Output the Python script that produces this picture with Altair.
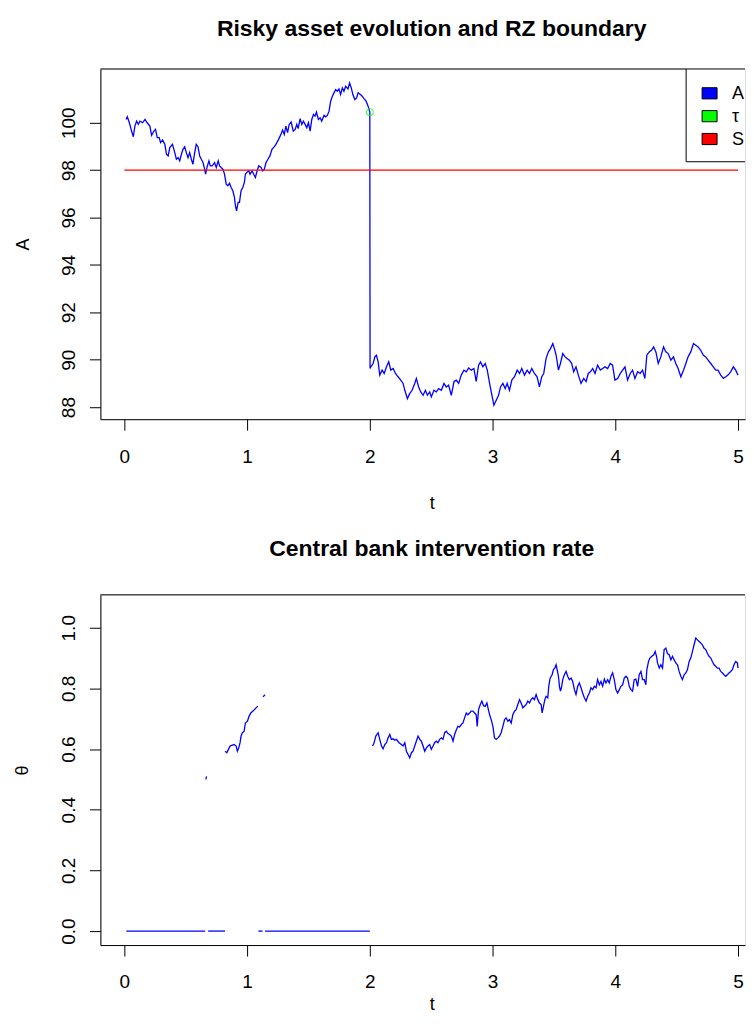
import altair as alt
import pandas as pd

FONT = "Liberation Sans"

# ---------------- data ----------------
a_t_pre = [0.014, 0.024, 0.041, 0.059, 0.073, 0.086, 0.100, 0.114, 0.127, 0.149,
           0.168, 0.186, 0.208, 0.222, 0.241, 0.254, 0.268, 0.284, 0.295, 0.311,
           0.330, 0.343, 0.357, 0.370, 0.392, 0.411, 0.424, 0.438, 0.451, 0.465,
           0.478, 0.492, 0.505, 0.519, 0.532, 0.546, 0.559, 0.573, 0.586, 0.600,
           0.614, 0.627, 0.641, 0.654, 0.662, 0.673, 0.689, 0.700, 0.716, 0.735,
           0.749, 0.765, 0.776, 0.789, 0.803, 0.816, 0.830, 0.843, 0.857, 0.870,
           0.884, 0.897, 0.905, 0.914, 0.927, 0.938, 0.951, 0.965, 0.978, 0.986,
           0.997, 1.014, 1.024, 1.041, 1.054, 1.068, 1.078, 1.095, 1.114, 1.127,
           1.141, 1.154, 1.170, 1.186, 1.203, 1.222, 1.235, 1.257, 1.276, 1.289,
           1.303, 1.316, 1.330, 1.343, 1.359, 1.376, 1.392, 1.405, 1.416, 1.432,
           1.446, 1.459, 1.473, 1.486, 1.500, 1.514, 1.527, 1.541, 1.554, 1.565,
           1.581, 1.595, 1.608, 1.627, 1.641, 1.654, 1.668, 1.681, 1.695, 1.708,
           1.722, 1.735, 1.749, 1.762, 1.776, 1.789, 1.803, 1.822, 1.835, 1.849,
           1.862, 1.878, 1.892, 1.905, 1.924, 1.938, 1.954, 1.970, 1.986, 2.000]
a_val_pre = [100.14, 100.25, 100.00, 99.65, 99.41, 99.86, 100.07, 99.93, 100.07, 100.00,
             100.14, 100.00, 99.86, 99.47, 99.65, 99.72, 99.37, 99.37, 99.16, 99.27,
             99.09, 98.67, 98.60, 98.95, 99.09, 98.74, 98.46, 98.53, 98.39, 98.67,
             98.88, 98.99, 98.74, 98.53, 98.74, 98.46, 98.25, 98.74, 99.09, 98.99,
             98.60, 98.46, 98.32, 98.04, 97.83, 98.11, 98.39, 98.18, 98.18, 98.32,
             98.11, 98.39, 98.18, 98.11, 98.04, 97.83, 97.41, 97.34, 97.45, 97.27,
             97.13, 96.85, 96.50, 96.28, 96.64, 96.64, 97.13, 97.27, 97.48, 97.83,
             97.90, 97.97, 97.83, 97.97, 97.83, 97.69, 97.90, 98.18, 98.11, 97.97,
             98.04, 98.32, 98.46, 98.60, 98.88, 98.99, 99.09, 99.30, 99.51, 99.69,
             99.51, 99.86, 99.58, 99.93, 100.03, 99.65, 99.72, 99.93, 99.75, 100.17,
             99.93, 100.07, 99.93, 99.79, 100.00, 99.65, 100.14, 100.35, 100.28, 100.45,
             100.14, 100.21, 100.07, 100.31, 100.25, 100.31, 100.49, 100.91, 101.12, 101.26,
             101.40, 101.33, 101.43, 101.19, 101.47, 101.33, 101.54, 101.43, 101.68, 101.47,
             101.19, 100.98, 101.05, 101.26, 101.19, 101.12, 101.01, 100.91, 100.70, 100.45]

a_t_post = [2.002,
            2.008, 2.027, 2.041, 2.054, 2.068, 2.081, 2.100, 2.117, 2.136, 2.154,
            2.171, 2.190, 2.209, 2.230, 2.252, 2.271, 2.285, 2.306, 2.325, 2.344,
            2.366, 2.379, 2.398, 2.415, 2.434, 2.453, 2.469, 2.488, 2.501, 2.523,
            2.542, 2.561, 2.583, 2.604, 2.623, 2.642, 2.664, 2.686, 2.705, 2.724,
            2.745, 2.767, 2.786, 2.805, 2.827, 2.848, 2.867, 2.886, 2.902, 2.921,
            2.940, 2.957, 2.976, 2.995, 3.011, 3.030, 3.049, 3.065, 3.084, 3.103,
            3.119, 3.138, 3.157, 3.179, 3.201, 3.220, 3.238, 3.260, 3.282, 3.301,
            3.320, 3.341, 3.363, 3.382, 3.401, 3.417, 3.436, 3.455, 3.472, 3.491,
            3.504, 3.518, 3.537, 3.553, 3.572, 3.591, 3.607, 3.626, 3.645, 3.661,
            3.680, 3.699, 3.721, 3.743, 3.762, 3.780, 3.797, 3.816, 3.835, 3.856,
            3.878, 3.897, 3.916, 3.938, 3.959, 3.978, 3.997, 4.019, 4.041, 4.060,
            4.079, 4.100, 4.122, 4.141, 4.160, 4.182, 4.203, 4.222, 4.241, 4.257,
            4.276, 4.295, 4.312, 4.331, 4.350, 4.371, 4.393, 4.412, 4.431, 4.453,
            4.474, 4.493, 4.512, 4.534, 4.556, 4.575, 4.593, 4.615, 4.637, 4.656,
            4.675, 4.696, 4.718, 4.737, 4.756, 4.778, 4.799, 4.818, 4.837, 4.859,
            4.881, 4.900, 4.919, 4.940, 4.962, 4.981, 5.000]
a_val_post = [89.63,
              89.70, 89.84, 90.12, 90.19, 89.91, 89.35, 89.56, 89.42, 89.70, 89.91,
              89.56, 89.63, 89.42, 89.28, 89.14, 89.00, 88.71, 88.36, 88.57, 88.71,
              89.00, 89.21, 88.85, 88.64, 88.50, 88.71, 88.50, 88.64, 88.43, 88.71,
              88.64, 88.78, 88.71, 89.00, 88.85, 88.93, 88.50, 89.08, 89.14, 89.00,
              89.35, 89.56, 89.49, 89.65, 89.56, 89.63, 89.08, 89.77, 89.91, 89.70,
              89.84, 89.56, 89.00, 88.50, 88.08, 88.29, 88.50, 88.85, 89.00, 88.78,
              89.00, 88.71, 89.14, 89.28, 89.56, 89.42, 89.63, 89.35, 89.56, 89.42,
              89.63, 89.42, 89.28, 88.85, 89.28, 89.42, 90.05, 90.33, 90.47, 90.68,
              90.47, 90.19, 89.56, 89.84, 90.26, 90.12, 90.05, 89.98, 89.84, 89.49,
              89.70, 89.35, 89.00, 89.21, 89.08, 89.42, 89.49, 89.63, 89.42, 89.77,
              89.56, 89.63, 89.70, 89.63, 89.84, 89.77, 89.14, 89.21, 89.42, 89.56,
              89.70, 89.14, 89.42, 89.56, 89.21, 89.49, 89.42, 89.56, 89.21, 90.19,
              90.33, 90.40, 90.54, 90.33, 89.84, 90.12, 90.54, 90.33, 90.26, 89.98,
              90.12, 89.84, 89.63, 89.28, 89.56, 89.84, 90.12, 90.33, 90.68, 90.61,
              90.54, 90.40, 90.19, 90.12, 89.98, 89.84, 89.70, 89.56, 89.56, 89.35,
              89.21, 89.28, 89.35, 89.49, 89.70, 89.56, 89.35]

boundary_t = [0.0, 5.0]
boundary_val = [98.0, 98.0]

tau_t = [2.0]
tau_val = [100.45]

# theta: segments separated by gaps (NA in the original)
theta_zero_segments = [[0.016, 0.659], [0.683, 0.821], [1.092, 1.126], [1.146, 2.0]]
theta_dot1_t = [0.664, 0.670]
theta_dot1 = [0.500, 0.510]
theta_dot2_t = [1.130, 1.146]
theta_dot2 = [0.772, 0.779]
theta_rise_t = [0.821, 0.835, 0.848, 0.862, 0.875, 0.894, 0.911, 0.921, 0.932, 0.943,
                0.951, 0.962, 0.976, 0.986, 1.003, 1.016, 1.030, 1.046, 1.060, 1.073, 1.087]
theta_rise = [0.593, 0.588, 0.599, 0.610, 0.612, 0.615, 0.610, 0.593, 0.604, 0.621,
              0.643, 0.654, 0.659, 0.686, 0.692, 0.708, 0.719, 0.725, 0.730, 0.736, 0.741]
theta_post_t = [2.022, 2.033, 2.049, 2.068, 2.081, 2.095, 2.108, 2.122, 2.136, 2.149,
                2.163, 2.176, 2.190, 2.203, 2.217, 2.238, 2.257, 2.271, 2.285, 2.298,
                2.312, 2.325, 2.339, 2.352, 2.366, 2.379, 2.393, 2.407, 2.420, 2.434,
                2.447, 2.461, 2.474, 2.488, 2.501, 2.515, 2.528, 2.542, 2.555, 2.569,
                2.583, 2.596, 2.610, 2.623, 2.637, 2.650, 2.664, 2.678, 2.691, 2.705,
                2.718, 2.732, 2.745, 2.759, 2.772, 2.786, 2.799, 2.813, 2.827, 2.840,
                2.854, 2.867, 2.875, 2.886, 2.900, 2.913, 2.927, 2.940, 2.954, 2.965,
                2.976, 2.989, 3.003, 3.016, 3.030, 3.043, 3.057, 3.070, 3.084, 3.098,
                3.111, 3.125, 3.138, 3.152, 3.165, 3.179, 3.192, 3.206, 3.220, 3.233,
                3.247, 3.260, 3.274, 3.287, 3.301, 3.314, 3.328, 3.341, 3.355, 3.369,
                3.382, 3.396, 3.404, 3.415, 3.426, 3.436, 3.450, 3.458, 3.469, 3.485,
                3.496, 3.507, 3.518, 3.526, 3.537, 3.545, 3.553, 3.561, 3.572, 3.585,
                3.599, 3.612, 3.626, 3.640, 3.653, 3.667, 3.680, 3.694, 3.707, 3.721,
                3.734, 3.748, 3.762, 3.775, 3.789, 3.802, 3.816, 3.829, 3.843, 3.856,
                3.870, 3.883, 3.897, 3.911, 3.924, 3.938, 3.951, 3.965, 3.978, 3.992,
                4.005, 4.019, 4.033, 4.046, 4.060, 4.073, 4.087, 4.100, 4.114, 4.127,
                4.141, 4.154, 4.168, 4.182, 4.195, 4.209, 4.222, 4.236, 4.249, 4.257,
                4.271, 4.282, 4.298, 4.314, 4.325, 4.336, 4.344, 4.358, 4.371, 4.385,
                4.398, 4.412, 4.425, 4.439, 4.453, 4.466, 4.480, 4.493, 4.507, 4.520,
                4.534, 4.547, 4.561, 4.575, 4.588, 4.602, 4.615, 4.629, 4.642, 4.656,
                4.669, 4.683, 4.696, 4.710, 4.722, 4.737, 4.751, 4.764, 4.778, 4.791,
                4.805, 4.818, 4.832, 4.846, 4.859, 4.873, 4.886, 4.900, 4.913, 4.927,
                4.940, 4.954, 4.967, 4.981, 4.995, 5.000]
theta_post = [0.610, 0.618, 0.643, 0.654, 0.632, 0.610, 0.601, 0.615, 0.621, 0.637,
              0.648, 0.632, 0.634, 0.629, 0.632, 0.621, 0.615, 0.610, 0.621, 0.593,
              0.582, 0.571, 0.588, 0.593, 0.610, 0.626, 0.643, 0.632, 0.626, 0.610,
              0.593, 0.604, 0.610, 0.615, 0.599, 0.610, 0.621, 0.626, 0.621, 0.632,
              0.637, 0.632, 0.654, 0.659, 0.651, 0.648, 0.643, 0.626, 0.648, 0.664,
              0.675, 0.673, 0.681, 0.686, 0.703, 0.719, 0.713, 0.719, 0.725, 0.725,
              0.719, 0.713, 0.675, 0.730, 0.747, 0.758, 0.743, 0.741, 0.752, 0.732,
              0.713, 0.697, 0.675, 0.637, 0.632, 0.637, 0.643, 0.654, 0.675, 0.697,
              0.703, 0.692, 0.697, 0.686, 0.713, 0.725, 0.730, 0.747, 0.763, 0.752,
              0.736, 0.741, 0.747, 0.758, 0.752, 0.763, 0.769, 0.763, 0.780, 0.763,
              0.752, 0.747, 0.719, 0.741, 0.763, 0.774, 0.769, 0.807, 0.834, 0.845,
              0.862, 0.867, 0.878, 0.862, 0.840, 0.807, 0.791, 0.802, 0.829, 0.845,
              0.856, 0.840, 0.829, 0.834, 0.823, 0.796, 0.780, 0.807, 0.818, 0.802,
              0.785, 0.769, 0.758, 0.774, 0.785, 0.802, 0.796, 0.807, 0.802, 0.829,
              0.812, 0.823, 0.807, 0.831, 0.818, 0.829, 0.818, 0.840, 0.851, 0.829,
              0.796, 0.785, 0.796, 0.807, 0.812, 0.834, 0.840, 0.834, 0.807, 0.796,
              0.791, 0.829, 0.831, 0.807, 0.845, 0.856, 0.829, 0.829, 0.812, 0.862,
              0.889, 0.900, 0.906, 0.911, 0.922, 0.906, 0.884, 0.867, 0.878, 0.867,
              0.928, 0.933, 0.915, 0.911, 0.894, 0.906, 0.894, 0.884, 0.878, 0.856,
              0.840, 0.829, 0.845, 0.851, 0.862, 0.889, 0.900, 0.922, 0.944, 0.966,
              0.960, 0.955, 0.950, 0.944, 0.933, 0.928, 0.915, 0.906, 0.900, 0.889,
              0.878, 0.873, 0.867, 0.867, 0.856, 0.851, 0.845, 0.840, 0.845, 0.851,
              0.856, 0.862, 0.878, 0.889, 0.884, 0.867]

x_ticks = [0, 1, 2, 3, 4, 5]
a_ticks = [88, 90, 92, 94, 96, 98, 100]
theta_ticks = [0.0, 0.2, 0.4, 0.6, 0.8, 1.0]

legend_labels = ["A", "τ", "S"]
legend_colors = ["#0000FF", "#00FF00", "#FF0000"]

# ---------------- layout ----------------
W, H = 646, 351
X_DOMAIN = [-0.1951, 5.0569]
A_DOMAIN = [87.49, 102.27]
TH_DOMAIN = [-0.0461, 1.1086]
CENTER_SHIFT = 9  # the original plot box runs past the right edge of the picture

a_df = pd.DataFrame({"t": a_t_pre + a_t_post, "A": a_val_pre + a_val_post})
a_df["i"] = range(len(a_df))
b_df = pd.DataFrame({"t": boundary_t, "A": boundary_val})
tau_df = pd.DataFrame({"t": tau_t, "A": tau_val})

rows = []
seg = 0
for s in theta_zero_segments:
    for tv in s:
        rows.append((tv, 0.0, seg))
    seg += 1
for ts, vs in [(theta_dot1_t, theta_dot1), (theta_dot2_t, theta_dot2),
               (theta_rise_t, theta_rise), (theta_post_t, theta_post)]:
    for tv, v in zip(ts, vs):
        rows.append((tv, v, seg))
    seg += 1
th_df = pd.DataFrame(rows, columns=["t", "theta", "seg"])
th_df["i"] = range(len(th_df))

axis_common = dict(domainColor="black", domainWidth=1, tickColor="black", tickWidth=1,
                   tickSize=11, labelColor="black", labelFont=FONT, labelFontSize=19,
                   titleFont=FONT, titleFontSize=18, titleFontWeight="normal",
                   titleColor="black", grid=False, labelOverlap=False, labelFlush=False)


def x_axis(title_y):
    return alt.Axis(values=x_ticks, format="d", title="t", labelPadding=17, labelAngle=0,
                    labelAlign="center", labelBaseline="top",
                    titleX=W / 2 + CENTER_SHIFT, titleY=title_y,
                    titleAlign="center", titleBaseline="alphabetic", titleAngle=0,
                    **axis_common)


def y_axis(vals, fmt, title, tx):
    return alt.Axis(values=vals, format=fmt, title=title, labelAngle=270,
                    labelAlign="center", labelBaseline="alphabetic", labelPadding=15,
                    titleAngle=270, titleX=tx, titleY=H / 2, titleAlign="center",
                    titleBaseline="alphabetic", **axis_common)


xs = alt.Scale(domain=X_DOMAIN, nice=False, zero=False)

border_top = alt.Chart(pd.DataFrame({"k": [0]})).mark_rule(
    color="black", strokeWidth=1).encode(x=alt.value(0), x2=alt.value(W), y=alt.value(0))

a_line = alt.Chart(a_df).mark_line(color="#0000FF", strokeWidth=1.3).encode(
    x=alt.X("t:Q", scale=xs, axis=x_axis(89)),
    y=alt.Y("A:Q", scale=alt.Scale(domain=A_DOMAIN, nice=False, zero=False),
            axis=y_axis(a_ticks, "d", "A", -72)),
    order="i:Q")
b_line = alt.Chart(b_df).mark_line(color="#FF0000", strokeWidth=1.2).encode(
    x="t:Q", y="A:Q")
tau_pt = alt.Chart(tau_df).mark_point(shape="circle", filled=False, color="#00FF00",
                                     size=45, strokeWidth=1.2).encode(x="t:Q", y="A:Q")

LX = 587  # legend box left edge inside the plot
legend_layers = [alt.Chart(pd.DataFrame({"k": [0]})).mark_rect(
    fill="white", stroke="black", strokeWidth=1, clip=True).encode(
    x=alt.value(LX), x2=alt.value(W + 2), y=alt.value(0), y2=alt.value(93))]
centers = [24.4, 47.3, 70.2]
for lab, col, cy in zip(legend_labels, legend_colors, centers):
    legend_layers.append(alt.Chart(pd.DataFrame({"k": [0]})).mark_rect(
        fill=col, stroke="black", strokeWidth=1).encode(
        x=alt.value(LX + 16), x2=alt.value(LX + 31), y=alt.value(cy - 5.6),
        y2=alt.value(cy + 5.6)))
    legend_layers.append(alt.Chart(pd.DataFrame({"k": [0]})).mark_text(
        align="left", baseline="alphabetic", font=FONT, fontSize=18, color="black",
        clip=True).encode(x=alt.value(LX + 46), y=alt.value(cy + 6.2), text=alt.value(lab)))

top = alt.layer(a_line, b_line, tau_pt, border_top, *legend_layers).properties(
    width=W, height=H,
    title=alt.TitleParams("Risky asset evolution and RZ boundary", font=FONT, fontSize=23,
                          fontWeight="bold", color="black", anchor="middle", frame="group",
                          baseline="alphabetic", offset=10, dx=CENTER_SHIFT))

th_line = alt.Chart(th_df).mark_line(color="#0000FF", strokeWidth=1.3).encode(
    x=alt.X("t:Q", scale=xs, axis=x_axis(65)),
    y=alt.Y("theta:Q", scale=alt.Scale(domain=TH_DOMAIN, nice=False, zero=False),
            axis=y_axis(theta_ticks, ".1f", "θ", -73)),
    detail="seg:N", order="i:Q")

bottom = alt.layer(th_line, border_top).properties(
    width=W, height=H,
    title=alt.TitleParams("Central bank intervention rate", font=FONT, fontSize=23,
                          fontWeight="bold", color="black", anchor="middle", frame="group",
                          baseline="alphabetic", offset=15, dx=CENTER_SHIFT))

chart = alt.vconcat(top, bottom, spacing=25).properties(
    padding={"left": 4.6, "top": 8, "right": 0, "bottom": 0}
).configure_view(stroke=None).configure(font=FONT, background="white")

chart.save("out.html", embed_options={"renderer": "svg", "actions": False})
